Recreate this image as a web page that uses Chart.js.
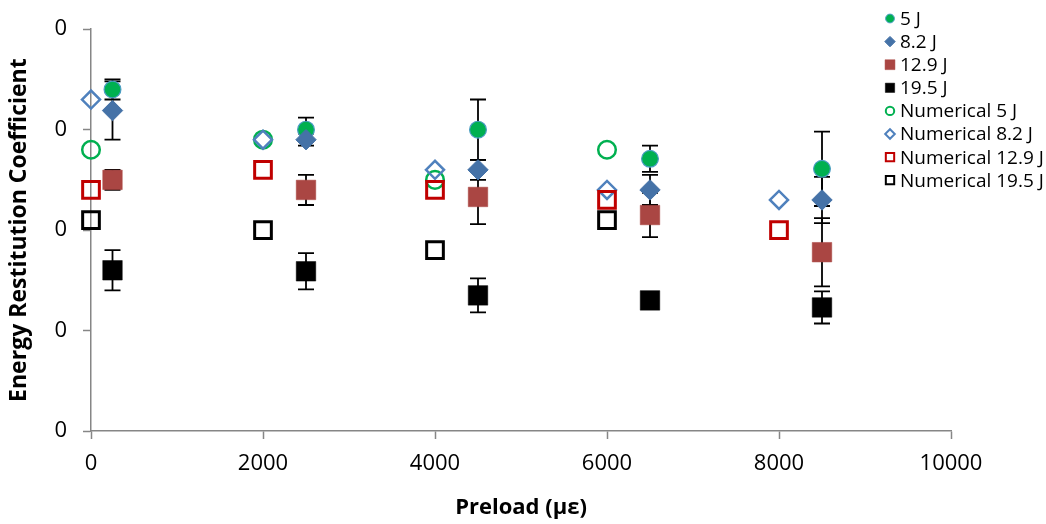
<!DOCTYPE html>
<html>
<head>
<meta charset="utf-8">
<script src="https://cdn.jsdelivr.net/npm/chart.js@4/dist/chart.umd.min.js"></script>
<style>
  html, body { margin: 0; padding: 0; background: #fff; }
</style>
</head>
<body>
<canvas id="myChart" width="1046" height="524"></canvas>
<script>
// preload positions (micro-strain)
const expPreload = [250, 2500, 4500, 6500, 8500];
const numPreload = [0, 2000, 4000, 6000, 8000];

// measured restitution coefficient, with +/- error
const exp5 = [0.340, 0.300, 0.300, 0.271, 0.261];
const exp5Err = [0.010, 0.012, 0.030, 0.013, 0.037];
const exp82 = [0.319, 0.290, 0.260, 0.240, 0.230];
const exp82Err = [0.029, 0.006, 0.010, 0.015, 0.023];
const exp129 = [0.250, 0.240, 0.233, 0.215, 0.178];
const exp129Err = [0.010, 0.015, 0.027, 0.022, 0.034];
const exp195 = [0.160, 0.159, 0.135, 0.130, 0.123];
const exp195Err = [0.020, 0.018, 0.017, 0, 0.016];

// numerical model results (null = no value)
const num5 = [0.280, 0.290, 0.250, 0.280, null];
const num82 = [0.330, 0.290, 0.260, 0.240, 0.230];
const num129 = [0.240, 0.260, 0.240, 0.230, 0.200];
const num195 = [0.210, 0.200, 0.180, 0.210, null];

const xTicks = [0, 2000, 4000, 6000, 8000, 10000];
const yTicks = [0, 0.1, 0.2, 0.3, 0.4];

const FONT = "'Open Sans', 'Liberation Sans', sans-serif";

function pts(xs, ys) {
  const out = [];
  xs.forEach((x, i) => { if (ys[i] !== null) out.push({ x: x, y: ys[i] }); });
  return out;
}

// legend marker settings kept alongside each series
const series = [
  { label: '5 J', data: pts(expPreload, exp5), err: exp5Err, pointStyle: 'circle', pointRadius: 8.4, pointBackgroundColor: '#00b050', pointBorderColor: '#4a9cc4', pointBorderWidth: 1.2, lg: { r: 4.4, lw: 1 } },
  { label: '8.2 J', data: pts(expPreload, exp82), err: exp82Err, pointStyle: 'rectRot', pointRadius: 10.2, pointBackgroundColor: '#4572a7', pointBorderColor: '#4572a7', pointBorderWidth: 1, lg: { r: 5.2, lw: 1 } },
  { label: '12.9 J', data: pts(expPreload, exp129), err: exp129Err, pointStyle: 'rect', pointRadius: 13.8, pointBackgroundColor: '#aa4643', pointBorderColor: '#aa4643', pointBorderWidth: 0.5, lg: { r: 7, lw: 0.5 } },
  { label: '19.5 J', data: pts(expPreload, exp195), err: exp195Err, pointStyle: 'rect', pointRadius: 13.8, pointBackgroundColor: '#000000', pointBorderColor: '#000000', pointBorderWidth: 0.5, lg: { r: 6.6, lw: 0.5 } },
  { label: 'Numerical 5 J', data: pts(numPreload, num5), pointStyle: 'circle', pointRadius: 8.8, pointBackgroundColor: 'rgba(255,255,255,0)', pointBorderColor: '#00b050', pointBorderWidth: 2.5, lg: { r: 4.2, lw: 2 } },
  { label: 'Numerical 8.2 J', data: pts(numPreload, num82), pointStyle: 'rectRot', pointRadius: 9, pointBackgroundColor: 'rgba(255,255,255,0)', pointBorderColor: '#4f81bd', pointBorderWidth: 2.5, lg: { r: 4.8, lw: 2 } },
  { label: 'Numerical 12.9 J', data: pts(numPreload, num129), pointStyle: 'rect', pointRadius: 11.8, pointBackgroundColor: 'rgba(255,255,255,0)', pointBorderColor: '#c00000', pointBorderWidth: 3, lg: { r: 5.9, lw: 2 } },
  { label: 'Numerical 19.5 J', data: pts(numPreload, num195), pointStyle: 'rect', pointRadius: 11.8, pointBackgroundColor: 'rgba(255,255,255,0)', pointBorderColor: '#000000', pointBorderWidth: 3, lg: { r: 5.9, lw: 2 } }
];

const datasets = series.map((s, i) => ({
  label: s.label,
  data: s.data,
  showLine: false,
  pointStyle: s.pointStyle,
  pointRadius: s.pointRadius,
  pointHoverRadius: s.pointRadius,
  pointBackgroundColor: s.pointBackgroundColor,
  pointBorderColor: s.pointBorderColor,
  pointBorderWidth: s.pointBorderWidth,
  clip: false,
  order: series.length - i // later series on top
}));

// vertical error bars with caps, drawn under the markers
const errorBars = {
  id: 'errorBars',
  beforeDatasetsDraw(chart) {
    const ctx = chart.ctx;
    const xs = chart.scales.x, ys = chart.scales.y;
    ctx.save();
    ctx.strokeStyle = '#000';
    ctx.lineWidth = 1.8;
    series.forEach(s => {
      if (!s.err) return;
      s.data.forEach((p, i) => {
        const e = s.err[i];
        if (!e) return;
        const px = xs.getPixelForValue(p.x);
        const top = ys.getPixelForValue(p.y + e);
        const bot = ys.getPixelForValue(p.y - e);
        ctx.beginPath();
        ctx.moveTo(px, top); ctx.lineTo(px, bot);
        ctx.moveTo(px - 8, top); ctx.lineTo(px + 8, top);
        ctx.moveTo(px - 8, bot); ctx.lineTo(px + 8, bot);
        ctx.stroke();
      });
    });
    ctx.restore();
  }
};

function drawMarker(ctx, style, x, y, r) {
  ctx.beginPath();
  if (style === 'circle') {
    ctx.arc(x, y, r, 0, Math.PI * 2);
  } else if (style === 'rectRot') {
    ctx.moveTo(x - r, y); ctx.lineTo(x, y - r); ctx.lineTo(x + r, y); ctx.lineTo(x, y + r);
    ctx.closePath();
  } else {
    const h = r * Math.SQRT1_2;
    ctx.rect(x - h, y - h, 2 * h, 2 * h);
  }
}

// legend stacked in the upper right, over the plot area
const sideLegend = {
  id: 'sideLegend',
  afterDraw(chart) {
    const ctx = chart.ctx;
    ctx.save();
    ctx.font = '19px ' + FONT;
    ctx.textBaseline = 'middle';
    ctx.textAlign = 'left';
    series.forEach((s, i) => {
      const y = 18.5 + i * 23.1;
      const x = 890;
      drawMarker(ctx, s.pointStyle, x, y, s.lg.r);
      ctx.fillStyle = s.pointBackgroundColor;
      ctx.fill();
      ctx.strokeStyle = s.pointBorderColor;
      ctx.lineWidth = s.lg.lw;
      ctx.stroke();
      ctx.fillStyle = '#000';
      ctx.fillText(s.label, 900, y + 1);
    });
    ctx.restore();
  }
};

const axisColor = '#868686';

const ctx = document.getElementById('myChart').getContext('2d');
const myChart = new Chart(ctx, {
  type: 'scatter',
  data: { datasets: datasets },
  options: {
    responsive: false,
    animation: false,
    devicePixelRatio: 1,
    layout: { padding: { left: 0, top: 25, right: 95, bottom: 0 } },
    plugins: {
      legend: { display: false },
      tooltip: { enabled: false }
    },
    scales: {
      x: {
        type: 'linear',
        min: 0,
        max: 10000,
        afterBuildTicks: (scale) => { scale.ticks = xTicks.map(v => ({ value: v })); },
        afterFit: (scale) => { scale.height = 93; },
        ticks: {
          color: '#000',
          padding: 12,
          maxRotation: 0,
          font: { family: FONT, size: 22 },
          callback: (v) => String(v)
        },
        grid: {
          drawOnChartArea: false,
          drawTicks: true,
          tickLength: 8,
          tickColor: axisColor,
          tickWidth: 1.5
        },
        border: { color: axisColor, width: 1.5 },
        title: {
          display: true,
          text: 'Preload (µε)',
          color: '#000',
          font: { family: FONT, size: 22, weight: 'bold' },
          padding: { top: 0, bottom: 3 }
        }
      },
      y: {
        type: 'linear',
        min: 0,
        max: 0.4,
        afterBuildTicks: (scale) => { scale.ticks = yTicks.map(v => ({ value: v })); },
        afterFit: (scale) => { scale.width = 91; },
        ticks: {
          color: '#000',
          padding: 16,
          font: { family: FONT, size: 22 },
          callback: (v) => Math.round(v).toString()
        },
        grid: {
          drawOnChartArea: false,
          drawTicks: true,
          tickLength: 8,
          tickColor: axisColor,
          tickWidth: 1.5
        },
        border: { color: axisColor, width: 1.5 },
        title: {
          display: true,
          text: 'Energy Restitution Coefficient',
          color: '#000',
          font: { family: FONT, size: 23, weight: 'bold' },
          padding: { top: 6, bottom: 0 }
        }
      }
    }
  },
  plugins: [errorBars, sideLegend]
});
</script>
</body>
</html>
